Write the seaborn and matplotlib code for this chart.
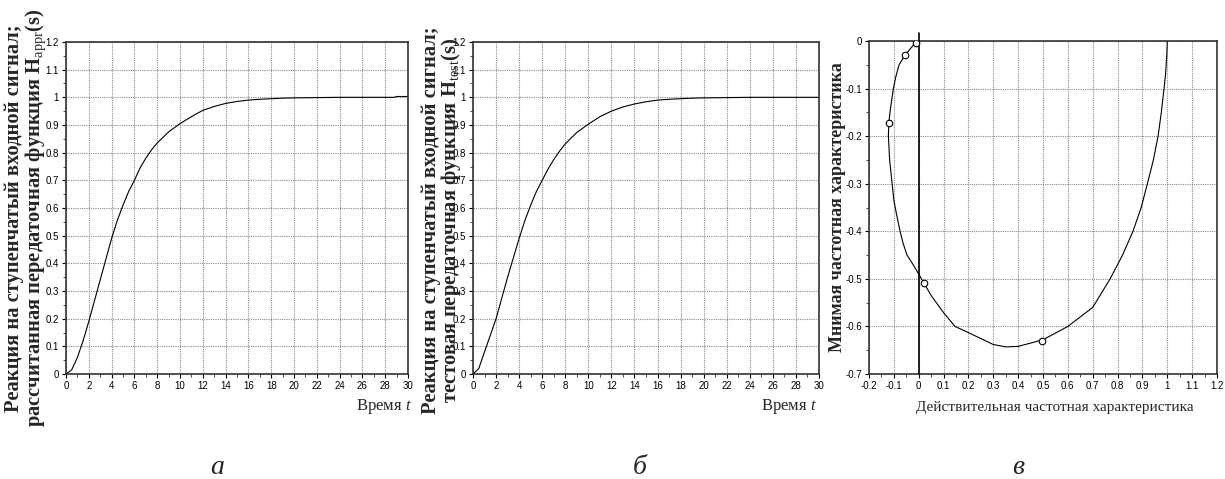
import numpy as np
import pandas as pd
import matplotlib
matplotlib.use("Agg")
import matplotlib.pyplot as plt
from matplotlib.ticker import MultipleLocator, FuncFormatter
import seaborn as sns

# ---- data ----
t_a = [0, 0.5, 1, 1.5, 2, 2.5, 3, 3.5, 4, 4.5, 5, 5.5, 6, 6.5, 7, 7.5, 8, 9, 10, 11, 12,
       13, 14, 15, 16, 17, 18, 19, 20, 22, 24, 26, 28, 28.8, 29, 30]
h_a = [0, 0.015, 0.06, 0.12, 0.19, 0.265, 0.34, 0.415, 0.49, 0.555, 0.61, 0.66, 0.70,
       0.745, 0.78, 0.81, 0.835, 0.875, 0.905, 0.93, 0.953, 0.967, 0.978, 0.985, 0.99,
       0.993, 0.995, 0.997, 0.998, 0.999, 1.0, 1.0, 1.0, 1.0, 1.003, 1.003]

t_b = [0, 0.5, 1, 1.5, 2, 2.5, 3, 3.5, 4, 4.5, 5, 5.5, 6, 6.5, 7, 7.5, 8, 9, 10, 11, 12,
       13, 14, 15, 16, 17, 18, 19, 20, 22, 24, 26, 28, 30]
h_b = [0, 0.02, 0.08, 0.14, 0.2, 0.275, 0.35, 0.42, 0.49, 0.555, 0.61, 0.66, 0.70,
       0.74, 0.775, 0.805, 0.832, 0.873, 0.903, 0.93, 0.95, 0.965, 0.976, 0.984, 0.99,
       0.993, 0.995, 0.997, 0.998, 0.999, 1.0, 1.0, 1.0, 1.0]

re_curve = [1.0, 0.998, 0.993, 0.987, 0.976, 0.963, 0.944, 0.92, 0.895, 0.862, 0.82,
            0.77, 0.70, 0.60, 0.5, 0.4, 0.35, 0.3, 0.2, 0.146, 0.1, 0.05, 0.0, -0.025,
            -0.047, -0.063, -0.075, -0.087, -0.1, -0.107, -0.117, -0.122, -0.12, -0.113,
            -0.102, -0.092, -0.079, -0.055, -0.035, -0.02, -0.008, 0.0]
im_curve = [0.0, -0.03, -0.07, -0.1, -0.15, -0.2, -0.25, -0.3, -0.35, -0.4, -0.45,
            -0.5, -0.56, -0.6, -0.628, -0.642, -0.643, -0.638, -0.613, -0.6, -0.571,
            -0.535, -0.49, -0.468, -0.45, -0.425, -0.4, -0.37, -0.335, -0.3, -0.25,
            -0.2, -0.17, -0.14, -0.1, -0.075, -0.05, -0.03, -0.017, -0.008, -0.002, 0.0]

re_pts = [-0.012, -0.055, -0.118, 0.020, 0.495]
im_pts = [-0.005, -0.030, -0.172, -0.509, -0.630]

ylabel_a = "Реакция на ступенчатый входной сигнал;\nрассчитанная передаточная функция H$_{\\mathrm{appr}}$(s)"
ylabel_b = "Реакция на ступенчатый входной сигнал;\nтестовая передаточная функция H$_{\\mathrm{test}}$(s)"
ylabel_c = "Мнимая частотная характеристика"
xlabel_t = "Время $t$"
xlabel_c = "Действительная частотная характеристика"
panel_letters = ["а", "б", "в"]

# ---- style ----
sns.set_theme(style="white")
plt.rcParams["font.family"] = ["Liberation Sans", "DejaVu Sans"]
plt.rcParams["mathtext.fontset"] = "custom"
plt.rcParams["mathtext.rm"] = "Liberation Serif"
plt.rcParams["mathtext.it"] = "Liberation Serif:italic"
plt.rcParams["mathtext.bf"] = "Liberation Serif:bold"
plt.rcParams["axes.unicode_minus"] = False

W, H = 1225, 479
fig = plt.figure(figsize=(W / 100, H / 100), dpi=100)

def box(l, t, r, b):
    return [l / W, (H - b) / H, (r - l) / W, (b - t) / H]

fmt = FuncFormatter(lambda v, p: ("%g" % round(v, 6)))

def style_ax(ax, xmaj, xmin, ymaj, ymin):
    ax.xaxis.set_major_locator(MultipleLocator(xmaj))
    ax.xaxis.set_minor_locator(MultipleLocator(xmin))
    ax.yaxis.set_major_locator(MultipleLocator(ymaj))
    ax.yaxis.set_minor_locator(MultipleLocator(ymin))
    ax.xaxis.set_major_formatter(fmt)
    ax.yaxis.set_major_formatter(fmt)
    ax.grid(True, which="major", color="#8a8a8a", linestyle=(0, (1, 1)), linewidth=0.8)
    ax.tick_params(which="major", direction="out", length=3, width=0.8, labelsize=7,
                   pad=2, colors="black", bottom=True, left=True)
    ax.tick_params(which="minor", direction="out", length=2, width=0.6,
                   bottom=True, left=True)
    for s in ax.spines.values():
        s.set_color("#333333")
        s.set_linewidth(1.2)
    ax.set_xlabel("")
    ax.set_ylabel("")

line_kw = dict(color="black", linewidth=0.8, sort=False, estimator=None)

# panel a
ax1 = fig.add_axes(box(66, 42, 408, 374))
sns.lineplot(x=t_a, y=h_a, ax=ax1, **line_kw)
ax1.set_xlim(0, 30)
ax1.set_ylim(0, 1.2)
style_ax(ax1, 2, 1, 0.1, 0.05)

# panel b
ax2 = fig.add_axes(box(473, 42, 819, 374))
sns.lineplot(x=t_b, y=h_b, ax=ax2, **line_kw)
ax2.set_xlim(0, 30)
ax2.set_ylim(0, 1.2)
style_ax(ax2, 2, 1, 0.1, 0.05)

# panel c
ax3 = fig.add_axes(box(869, 41, 1217, 374))
sns.lineplot(x=re_curve, y=im_curve, ax=ax3, **line_kw)
ax3.axvline(0, ymin=0, ymax=1.025, color="black", linewidth=1.2, clip_on=False, zorder=3)
sns.scatterplot(x=re_pts, y=im_pts, ax=ax3, s=22, facecolor="white", edgecolor="black",
                linewidth=0.8, zorder=5)
ax3.set_xlim(-0.2, 1.2)
ax3.set_ylim(-0.7, 0)
style_ax(ax3, 0.1, 0.05, 0.1, 0.05)

# labels
serif_b = dict(family=["Liberation Serif", "DejaVu Serif"], weight="bold")
serif = dict(family=["Liberation Serif", "DejaVu Serif"])
fig.text(26 / W, 1 - 218 / H, ylabel_a, rotation=90, ha="center", va="center",
         multialignment="center", fontsize=14.8, linespacing=0.92, **serif_b)
fig.text(442 / W, 1 - 220 / H, ylabel_b, rotation=90, ha="center", va="center",
         multialignment="center", fontsize=14.8, linespacing=0.92, **serif_b)
fig.text(838 / W, 1 - 207 / H, ylabel_c, rotation=90, ha="center", va="center",
         fontsize=13, **serif_b)

fig.text(412 / W, 1 - 406 / H, xlabel_t, ha="right", va="center", fontsize=12, **serif)
fig.text(817 / W, 1 - 406 / H, xlabel_t, ha="right", va="center", fontsize=12, **serif)
fig.text(1055 / W, 1 - 407 / H, xlabel_c, ha="center", va="center", fontsize=11, **serif)

for x, letter in zip([217, 640, 1018], panel_letters):
    fig.text(x / W, 1 - 468 / H, letter, ha="center", va="center", fontsize=20,
             style="italic", **serif)

fig.savefig("out.png", dpi=100)
